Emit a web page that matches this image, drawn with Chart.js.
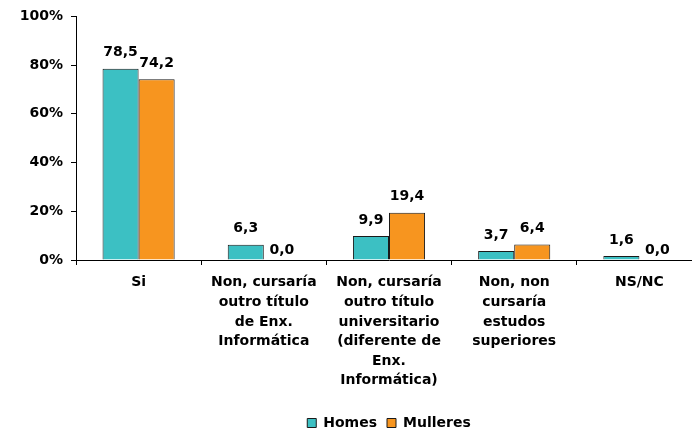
<!DOCTYPE html>
<html>
<head>
<meta charset="utf-8">
<script src="https://cdn.jsdelivr.net/npm/chart.js@4"></script>
<style>
  html, body { margin: 0; padding: 0; background: #fff; overflow: hidden; }
  #wrap { width: 704px; height: 432px; }
</style>
</head>
<body>
<div id="wrap"><canvas id="chart"></canvas></div>
<script>
const categories = [
  'Si',
  ['Non, cursaría', 'outro título', 'de Enx.', 'Informática'],
  ['Non, cursaría', 'outro título', 'universitario', '(diferente de', 'Enx.', 'Informática)'],
  ['Non, non', 'cursaría', 'estudos', 'superiores'],
  'NS/NC'
];
const homes = [78.5, 6.3, 9.9, 3.7, 1.6];
const mulleres = [74.2, 0.0, 19.4, 6.4, 0.0];
const yTicks = [0, 20, 40, 60, 80, 100];

const FONT = '"DejaVu Sans", Verdana, sans-serif';

// etiquetas de valor encima das barras
const valueLabels = {
  id: 'valueLabels',
  afterDatasetsDraw(chart) {
    const ctx = chart.ctx;
    ctx.save();
    ctx.font = 'bold 14px ' + FONT;
    ctx.fillStyle = '#000';
    ctx.textAlign = 'center';
    ctx.textBaseline = 'bottom';
    chart.data.datasets.forEach((ds, i) => {
      chart.getDatasetMeta(i).data.forEach((bar, j) => {
        const v = ds.data[j];
        const gap = v === 0 ? 3 : 9;
        ctx.fillText(v.toFixed(1).replace('.', ','), bar.x, bar.y - gap);
      });
    });
    ctx.restore();
  }
};

new Chart(document.getElementById('chart'), {
  type: 'bar',
  data: {
    labels: categories,
    datasets: [{
      label: 'Homes',
      data: homes,
      backgroundColor: '#3cc0c3',
      borderColor: '#1a1a1a',
      borderWidth: 1,
      categoryPercentage: 0.576,
      barPercentage: 1
    }, {
      label: 'Mulleres',
      data: mulleres,
      backgroundColor: '#f7951f',
      borderColor: '#1a1a1a',
      borderWidth: 1,
      categoryPercentage: 0.576,
      barPercentage: 1
    }]
  },
  options: {
    responsive: true,
    maintainAspectRatio: false,
    animation: false,
    layout: { padding: { top: 16, right: 2, bottom: -8, left: 0 } },
    plugins: {
      tooltip: { enabled: false },
      legend: {
        position: 'bottom',
        fullSize: false,
        labels: {
          color: '#000',
          font: { family: FONT, size: 14, weight: 'bold' },
          boxWidth: 9,
          boxHeight: 9,
          padding: 10
        }
      }
    },
    scales: {
      x: {
        grid: { display: true, drawOnChartArea: false, tickLength: 5, color: '#000' },
        border: { color: '#000' },
        ticks: {
          color: '#000',
          padding: 8,
          maxRotation: 0,
          autoSkip: false,
          font: { family: FONT, size: 14, weight: 'bold', lineHeight: 1.4 }
        },
        afterFit(s) { s.height = 146; }
      },
      y: {
        min: 0,
        max: 100,
        grid: { display: true, drawOnChartArea: false, tickLength: 5, color: '#000' },
        border: { color: '#000' },
        afterBuildTicks(s) { s.ticks = yTicks.map(v => ({ value: v })); },
        ticks: {
          color: '#000',
          padding: 8,
          font: { family: FONT, size: 14, weight: 'bold' },
          callback: v => v + '%'
        },
        afterFit(s) { s.width = 76; }
      }
    }
  },
  plugins: [valueLabels]
});
</script>
</body>
</html>
